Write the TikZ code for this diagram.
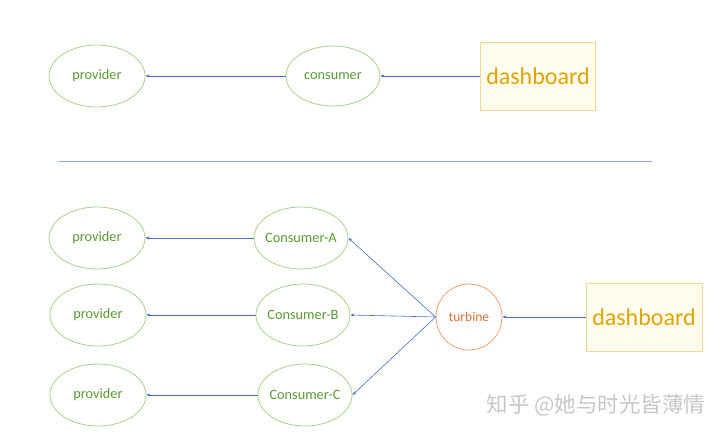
\documentclass[tikz,border=0pt]{standalone}
\usepackage{fontspec}
\setmainfont{Carlito}
\newfontfamily\cjk{Noto Sans CJK SC}
\usetikzlibrary{shapes.geometric,arrows.meta}
\definecolor{edgegreen}{HTML}{A9D18E}
\definecolor{txtgreen}{HTML}{5A9A36}
\definecolor{arrowblue}{HTML}{4472C4}
\definecolor{lineblue}{HTML}{8FAADC}
\definecolor{dashedge}{HTML}{F6D98E}
\definecolor{dashfill}{HTML}{FFFCF0}
\definecolor{dashtxt}{HTML}{DFA500}
\definecolor{turbedge}{HTML}{EDA27A}
\definecolor{turbtxt}{HTML}{D9733A}
\tikzset{
  ell/.style={ellipse, draw=edgegreen, line width=0.8pt, minimum width=96pt, minimum height=62pt, inner sep=0pt, text=txtgreen, font=\fontsize{14.3}{16}\selectfont},
  cons/.style={ell, minimum width=94pt, inner xsep=-4pt},
  dashbox/.style={rectangle, draw=dashedge, fill=dashfill, line width=0.8pt, minimum width=115pt, minimum height=68pt, text=dashtxt, font=\fontsize{24}{27}\selectfont},
  turb/.style={circle, draw=turbedge, line width=0.8pt, minimum size=66pt, inner sep=0pt, text=turbtxt, font=\fontsize{13.5}{15}\selectfont},
  conn/.style={draw=arrowblue, line width=0.6pt, -{Stealth[length=4pt,width=3pt]}}
}
\begin{document}
\begin{tikzpicture}[x=1pt,y=-1pt]
\useasboundingbox (0,0) rectangle (720,434);
% top
\node[ell] (p0) at (97,76) {provider};
\node[cons, minimum height=60pt] (c0) at (333,76) {consumer};
\node[dashbox] (d0) at (538,76) {dashboard};
\draw[conn] (c0) -- (p0);
\draw[conn] (d0) -- (c0);
% separator
\coordinate (s1) at (58,161);
\coordinate (s2) at (652,161);
\draw[lineblue, line width=0.9pt] (s1) -- (s2);
% bottom
\node[ell] (pa) at (97,238) {provider};
\node[cons] (ca) at (301,238) {Consumer-A};
\node[ell] (pb) at (98,315) {provider};
\node[cons] (cb) at (303,315) {Consumer-B};
\node[ell] (pc) at (98,395) {provider};
\node[cons] (cc) at (305,395) {Consumer-C};
\node[turb] (t) at (469,317) {turbine};
\node[dashbox, minimum width=116pt] (d1) at (644,317) {dashboard};
\draw[conn] (ca) -- (pa);
\draw[conn] (cb) -- (pb);
\draw[conn] (cc) -- (pc);
\draw[conn] (d1) -- (t);
\draw[conn] (t.west) -- (ca.east);
\draw[conn] (t.west) -- (cb.east);
\draw[conn] (t.west) -- (cc.east);
% watermark
\node[text=black!22, font=\cjk\fontsize{21.5}{24}\selectfont, anchor=center] (wm) at (596,405) {知乎 @她与时光皆薄情};
\end{tikzpicture}
\end{document}
